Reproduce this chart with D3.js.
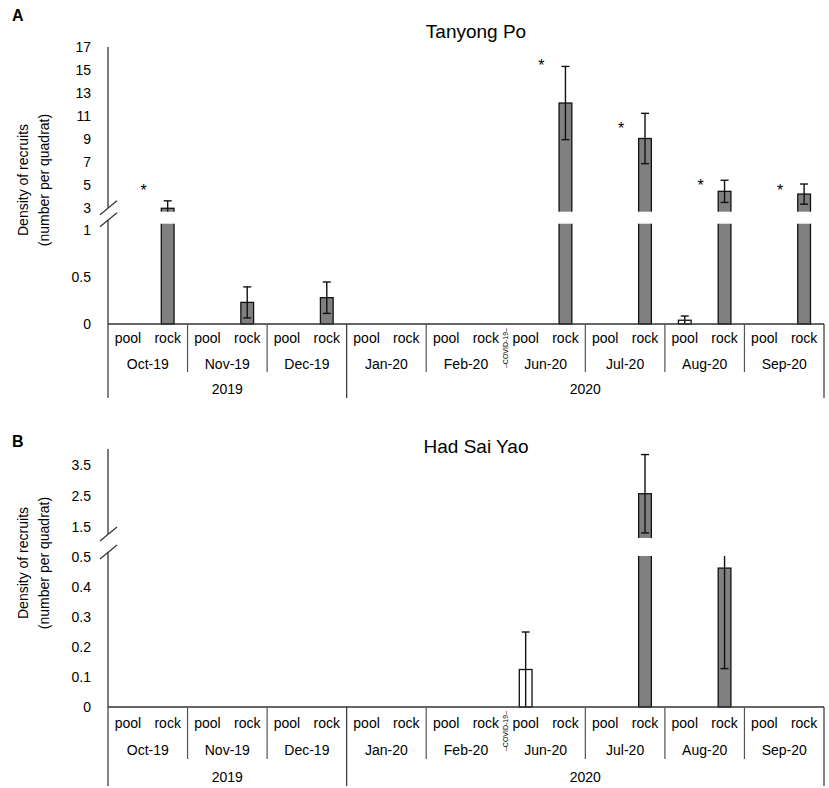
<!DOCTYPE html>
<html>
<head>
<meta charset="utf-8">
<script src="https://cdn.jsdelivr.net/npm/d3@7"></script>
<style>
  body { margin: 0; background: #fff; }
  svg text { font-family: Arial, "Liberation Sans", sans-serif; fill: #000; }
</style>
</head>
<body>
<script>
// categories
const months = ["Oct-19", "Nov-19", "Dec-19", "Jan-20", "Feb-20", "Jun-20", "Jul-20", "Aug-20", "Sep-20"];
const habitats = ["pool", "rock"];
const monthYear = ["2019", "2019", "2019", "2020", "2020", "2020", "2020", "2020", "2020"];
const years = ["2019", "2020"];
const covidMonth = "Jun-20";

// Tanyong Po (A)
const tanyongPool    = [0, 0, 0, 0, 0, 0, 0, 0.04, 0];
const tanyongPoolErr = [0, 0, 0, 0, 0, 0, 0, 0.045, 0];
const tanyongRock    = [2.9, 0.23, 0.28, 0, 0, 12.1, 9.0, 4.38, 4.14];
const tanyongRockErr = [0.65, 0.165, 0.167, 0, 0, 3.2, 2.2, 0.97, 0.88];
const tanyongStars   = [4.79, null, null, null, null, 15.7, 10.18, 5.2, 4.79];
const tanyongTicks   = [0, 0.5, 1, 3, 5, 7, 9, 11, 13, 15, 17];

// Had Sai Yao (B)
const hadPool    = [0, 0, 0, 0, 0, 0.125, 0, 0, 0];
const hadPoolErr = [0, 0, 0, 0, 0, 0.125, 0, 0, 0];
const hadRock    = [0, 0, 0, 0, 0, 0, 2.55, 0.463, 0];
const hadRockErr = [0, 0, 0, 0, 0, 0, 1.27, 0.335, 0];
const hadStars   = [null, null, null, null, null, null, null, null, null];
const hadTicks   = [0, 0.1, 0.2, 0.3, 0.4, 0.5, 1.5, 2.5, 3.5];

const svg = d3.select("body").append("svg")
    .attr("width", 829)
    .attr("height", 788);

const x0 = d3.scaleBand().domain(months).range([108, 824]);
const x1 = d3.scaleBand().domain(habitats).range([0, x0.bandwidth()]);
const barW = x1.bandwidth() * 0.32;
const xc = (m, h) => x0(m) + x1(h) + x1.bandwidth() / 2;

const panels = [
    {
        letter: "A", letterY: 21, title: "Tanyong Po", titleY: 38,
        pool: tanyongPool, poolErr: tanyongPoolErr, rock: tanyongRock, rockErr: tanyongRockErr,
        stars: tanyongStars, ticks: tanyongTicks,
        domain: [0, 1, 17], range: [324, 230, 47], gap: [1.55, 2.6],
        yTitleY: 180, rows: [19, 45, 70], monthLine: 48, yearLine: 74
    },
    {
        letter: "B", letterY: 447, title: "Had Sai Yao", titleY: 453,
        pool: hadPool, poolErr: hadPoolErr, rock: hadRock, rockErr: hadRockErr,
        stars: hadStars, ticks: hadTicks,
        domain: [0, 0.5, 4], range: [707, 557, 449], gap: [0.532, 1.116],
        yTitleY: 563, rows: [21, 48, 75], monthLine: 52, yearLine: 79
    }
];

panels.forEach(drawPanel);

function drawPanel(p) {
    let sy = d3.scaleLinear().domain(p.domain).range(p.range);
    let y0 = sy(0);
    let g = svg.append("g");

    g.append("text")
        .attr("x", 12).attr("y", p.letterY)
        .style("font-size", "16px").style("font-weight", "bold")
        .text(p.letter);

    g.append("text")
        .attr("x", 476).attr("y", p.titleY)
        .attr("text-anchor", "middle")
        .style("font-size", "19px")
        .text(p.title);

    let yt = g.append("text")
        .attr("transform", "translate(0," + p.yTitleY + ") rotate(-90)")
        .attr("text-anchor", "middle")
        .style("font-size", "14px");
    yt.append("tspan").attr("x", 0).attr("y", 28).text("Density of recruits");
    yt.append("tspan").attr("x", 0).attr("y", 49).text("(number per quadrat)");

    let bars = months.flatMap((m, i) => habitats.map((h) => ({
        month: m, hab: h,
        v: h === "pool" ? p.pool[i] : p.rock[i],
        e: h === "pool" ? p.poolErr[i] : p.rockErr[i]
    }))).filter((d) => d.v > 0);

    g.selectAll(".bar")
        .data(bars)
        .enter()
        .append("rect")
        .attr("class", "bar")
        .attr("x", (d) => xc(d.month, d.hab) - barW / 2)
        .attr("y", (d) => sy(d.v))
        .attr("width", barW)
        .attr("height", (d) => y0 - sy(d.v))
        .attr("fill", (d) => d.hab === "pool" ? "#fff" : "#808080")
        .attr("stroke", "#111")
        .attr("stroke-width", 1.3);

    let errs = g.selectAll(".err")
        .data(bars.filter((d) => d.e > 0))
        .enter()
        .append("g")
        .attr("class", "err")
        .attr("stroke", "#111")
        .attr("stroke-width", 1.4);
    errs.append("line")
        .attr("x1", (d) => xc(d.month, d.hab)).attr("x2", (d) => xc(d.month, d.hab))
        .attr("y1", (d) => sy(d.v + d.e))
        .attr("y2", (d) => sy(Math.max(d.v - d.e, 0)));
    errs.append("line")
        .attr("x1", (d) => xc(d.month, d.hab) - 4).attr("x2", (d) => xc(d.month, d.hab) + 4)
        .attr("y1", (d) => sy(d.v + d.e)).attr("y2", (d) => sy(d.v + d.e));
    errs.filter((d) => d.v - d.e > 0)
        .append("line")
        .attr("x1", (d) => xc(d.month, d.hab) - 4).attr("x2", (d) => xc(d.month, d.hab) + 4)
        .attr("y1", (d) => sy(d.v - d.e)).attr("y2", (d) => sy(d.v - d.e));

    // axis break: white band across the plot
    let gTop = sy(p.gap[1]), gBot = sy(p.gap[0]);
    g.append("rect")
        .attr("x", 109).attr("y", gTop)
        .attr("width", 824 - 109).attr("height", gBot - gTop)
        .attr("fill", "#fff");

    g.selectAll(".star")
        .data(months.map((m, i) => ({ month: m, s: p.stars[i] })).filter((d) => d.s != null))
        .enter()
        .append("text")
        .attr("x", (d) => xc(d.month, "rock") - 24)
        .attr("y", (d) => sy(d.s) + 9)
        .attr("text-anchor", "middle")
        .style("font-size", "16px")
        .text("*");

    // y axis
    let yAxis = g.append("g")
        .attr("transform", "translate(108,0)")
        .call(d3.axisLeft(sy).tickValues(p.ticks).tickSize(0).tickPadding(17).tickFormat((d) => String(d)));
    yAxis.select(".domain").remove();
    yAxis.selectAll("text")
        .style("font-size", "14px")
        .attr("font-family", null)
        .attr("dy", "0.35em");

    let s1 = gTop - 4, s2 = gBot - 4;
    let axisStroke = "#333";
    g.append("line").attr("x1", 108).attr("x2", 108).attr("y1", p.range[2]).attr("y2", s1)
        .attr("stroke", axisStroke).attr("stroke-width", 1.3);
    g.append("line").attr("x1", 108).attr("x2", 108).attr("y1", s2).attr("y2", y0)
        .attr("stroke", axisStroke).attr("stroke-width", 1.3);
    [s1, s2].forEach((s) => {
        g.append("line")
            .attr("x1", 100).attr("y1", s + 7)
            .attr("x2", 117).attr("y2", s - 7)
            .attr("stroke", axisStroke).attr("stroke-width", 1.2);
    });

    // x axis
    g.append("line")
        .attr("x1", 108).attr("x2", 824).attr("y1", y0).attr("y2", y0)
        .attr("stroke", axisStroke).attr("stroke-width", 1.3);

    g.selectAll(".hab")
        .data(months.flatMap((m) => habitats.map((h) => ({ month: m, hab: h }))))
        .enter()
        .append("text")
        .attr("x", (d) => xc(d.month, d.hab))
        .attr("y", y0 + p.rows[0])
        .attr("text-anchor", "middle")
        .style("font-size", "14px")
        .text((d) => d.hab);

    g.selectAll(".month")
        .data(months)
        .enter()
        .append("text")
        .attr("x", (d) => x0(d) + x0.bandwidth() / 2)
        .attr("y", y0 + p.rows[1])
        .attr("text-anchor", "middle")
        .style("font-size", "14px")
        .text((d) => d);

    g.selectAll(".year")
        .data(years)
        .enter()
        .append("text")
        .attr("x", (yr) => {
            let first = monthYear.indexOf(yr), last = monthYear.lastIndexOf(yr);
            return (x0(months[first]) + x0(months[last]) + x0.bandwidth()) / 2;
        })
        .attr("y", y0 + p.rows[2])
        .attr("text-anchor", "middle")
        .style("font-size", "14px")
        .text((d) => d);

    // dividers
    d3.range(months.length + 1).forEach((i) => {
        let x = i < months.length ? x0(months[i]) : x0.range()[1];
        let isYear = i === 0 || i === months.length || monthYear[i] !== monthYear[i - 1];
        if (months[i] === covidMonth) {
            g.append("text")
                .attr("transform", "translate(" + (x + 2.5) + "," + (y0 + 24) + ") rotate(-90)")
                .attr("text-anchor", "middle")
                .style("font-size", "7px")
                .text("\u2013COVID-19\u2013");
            return;
        }
        g.append("line")
            .attr("x1", x).attr("x2", x)
            .attr("y1", y0).attr("y2", y0 + (isYear ? p.yearLine : p.monthLine))
            .attr("stroke", isYear ? axisStroke : "#555")
            .attr("stroke-width", 1.2);
    });
}
</script>
</body>
</html>
